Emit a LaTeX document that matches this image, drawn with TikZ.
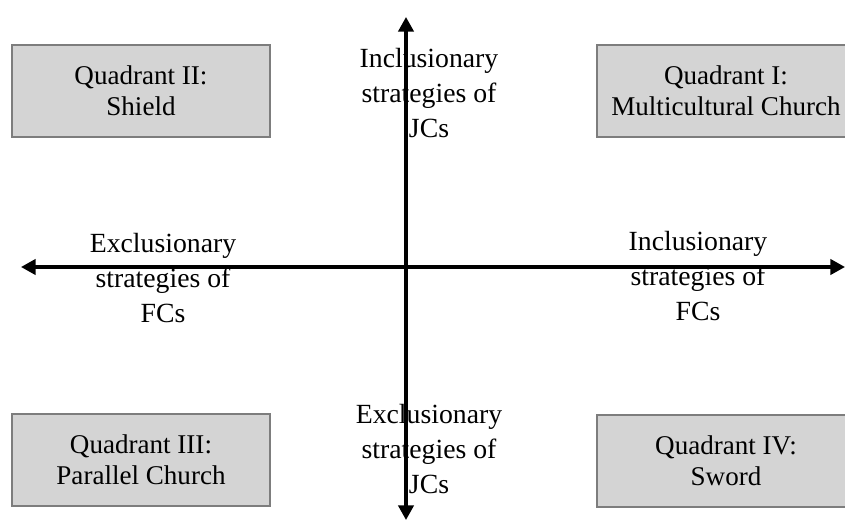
\documentclass[tikz,border=0pt]{standalone}
\usepackage{fontspec}
\setmainfont{Liberation Serif}
\usepackage{tikz}
\usetikzlibrary{arrows.meta}

\definecolor{boxfill}{RGB}{212,212,212}
\definecolor{boxline}{RGB}{125,125,125}

\begin{document}
\begin{tikzpicture}[x=0.75pt,y=-0.75pt]
            \tikzstyle{quadrant}=[draw=boxline, line width=1.7pt, fill=boxfill,
                minimum width=193.5pt, minimum height=69pt, inner sep=0pt,
                align=center, font=\fontsize{20.3}{23}\selectfont]
            \tikzstyle{axislabel}=[inner sep=0pt, align=center,
                font=\fontsize{20.8}{26}\selectfont]
            \tikzstyle{axis}=[line width=2.4pt, {Triangle[length=11pt,width=11.5pt]}-{Triangle[length=11pt,width=11.5pt]}]

            \path[use as bounding box, clip] (0,0) rectangle (845,520);

            % quadrants
            \node[quadrant] (q2) at (141,91) {Quadrant II:\\Shield};
            \node[quadrant] (q1) at (726,91) {Quadrant I:\\Multicultural Church};
            \node[quadrant] (q3) at (141,460) {Quadrant III:\\Parallel Church};
            \node[quadrant] (q4) at (726,461) {Quadrant IV:\\Sword};

            % axes
            \coordinate (left) at (21,267);
            \coordinate (right) at (845,267);
            \coordinate (top) at (406,17);
            \coordinate (bottom) at (406,520);

            \draw[axis] (left) -- (right);
            \draw[axis] (bottom) -- (top);

            % axis labels
            \node[axislabel] (incjc) at (429,93) {Inclusionary\\strategies of\\JCs};
            \node[axislabel] (excjc) at (429,449) {Exclusionary\\strategies of\\JCs};
            \node[axislabel] (excfc) at (163,278) {Exclusionary\\strategies of\\FCs};
            \node[axislabel] (incfc) at (698,276) {Inclusionary\\strategies of\\FCs};
\end{tikzpicture}
\end{document}
